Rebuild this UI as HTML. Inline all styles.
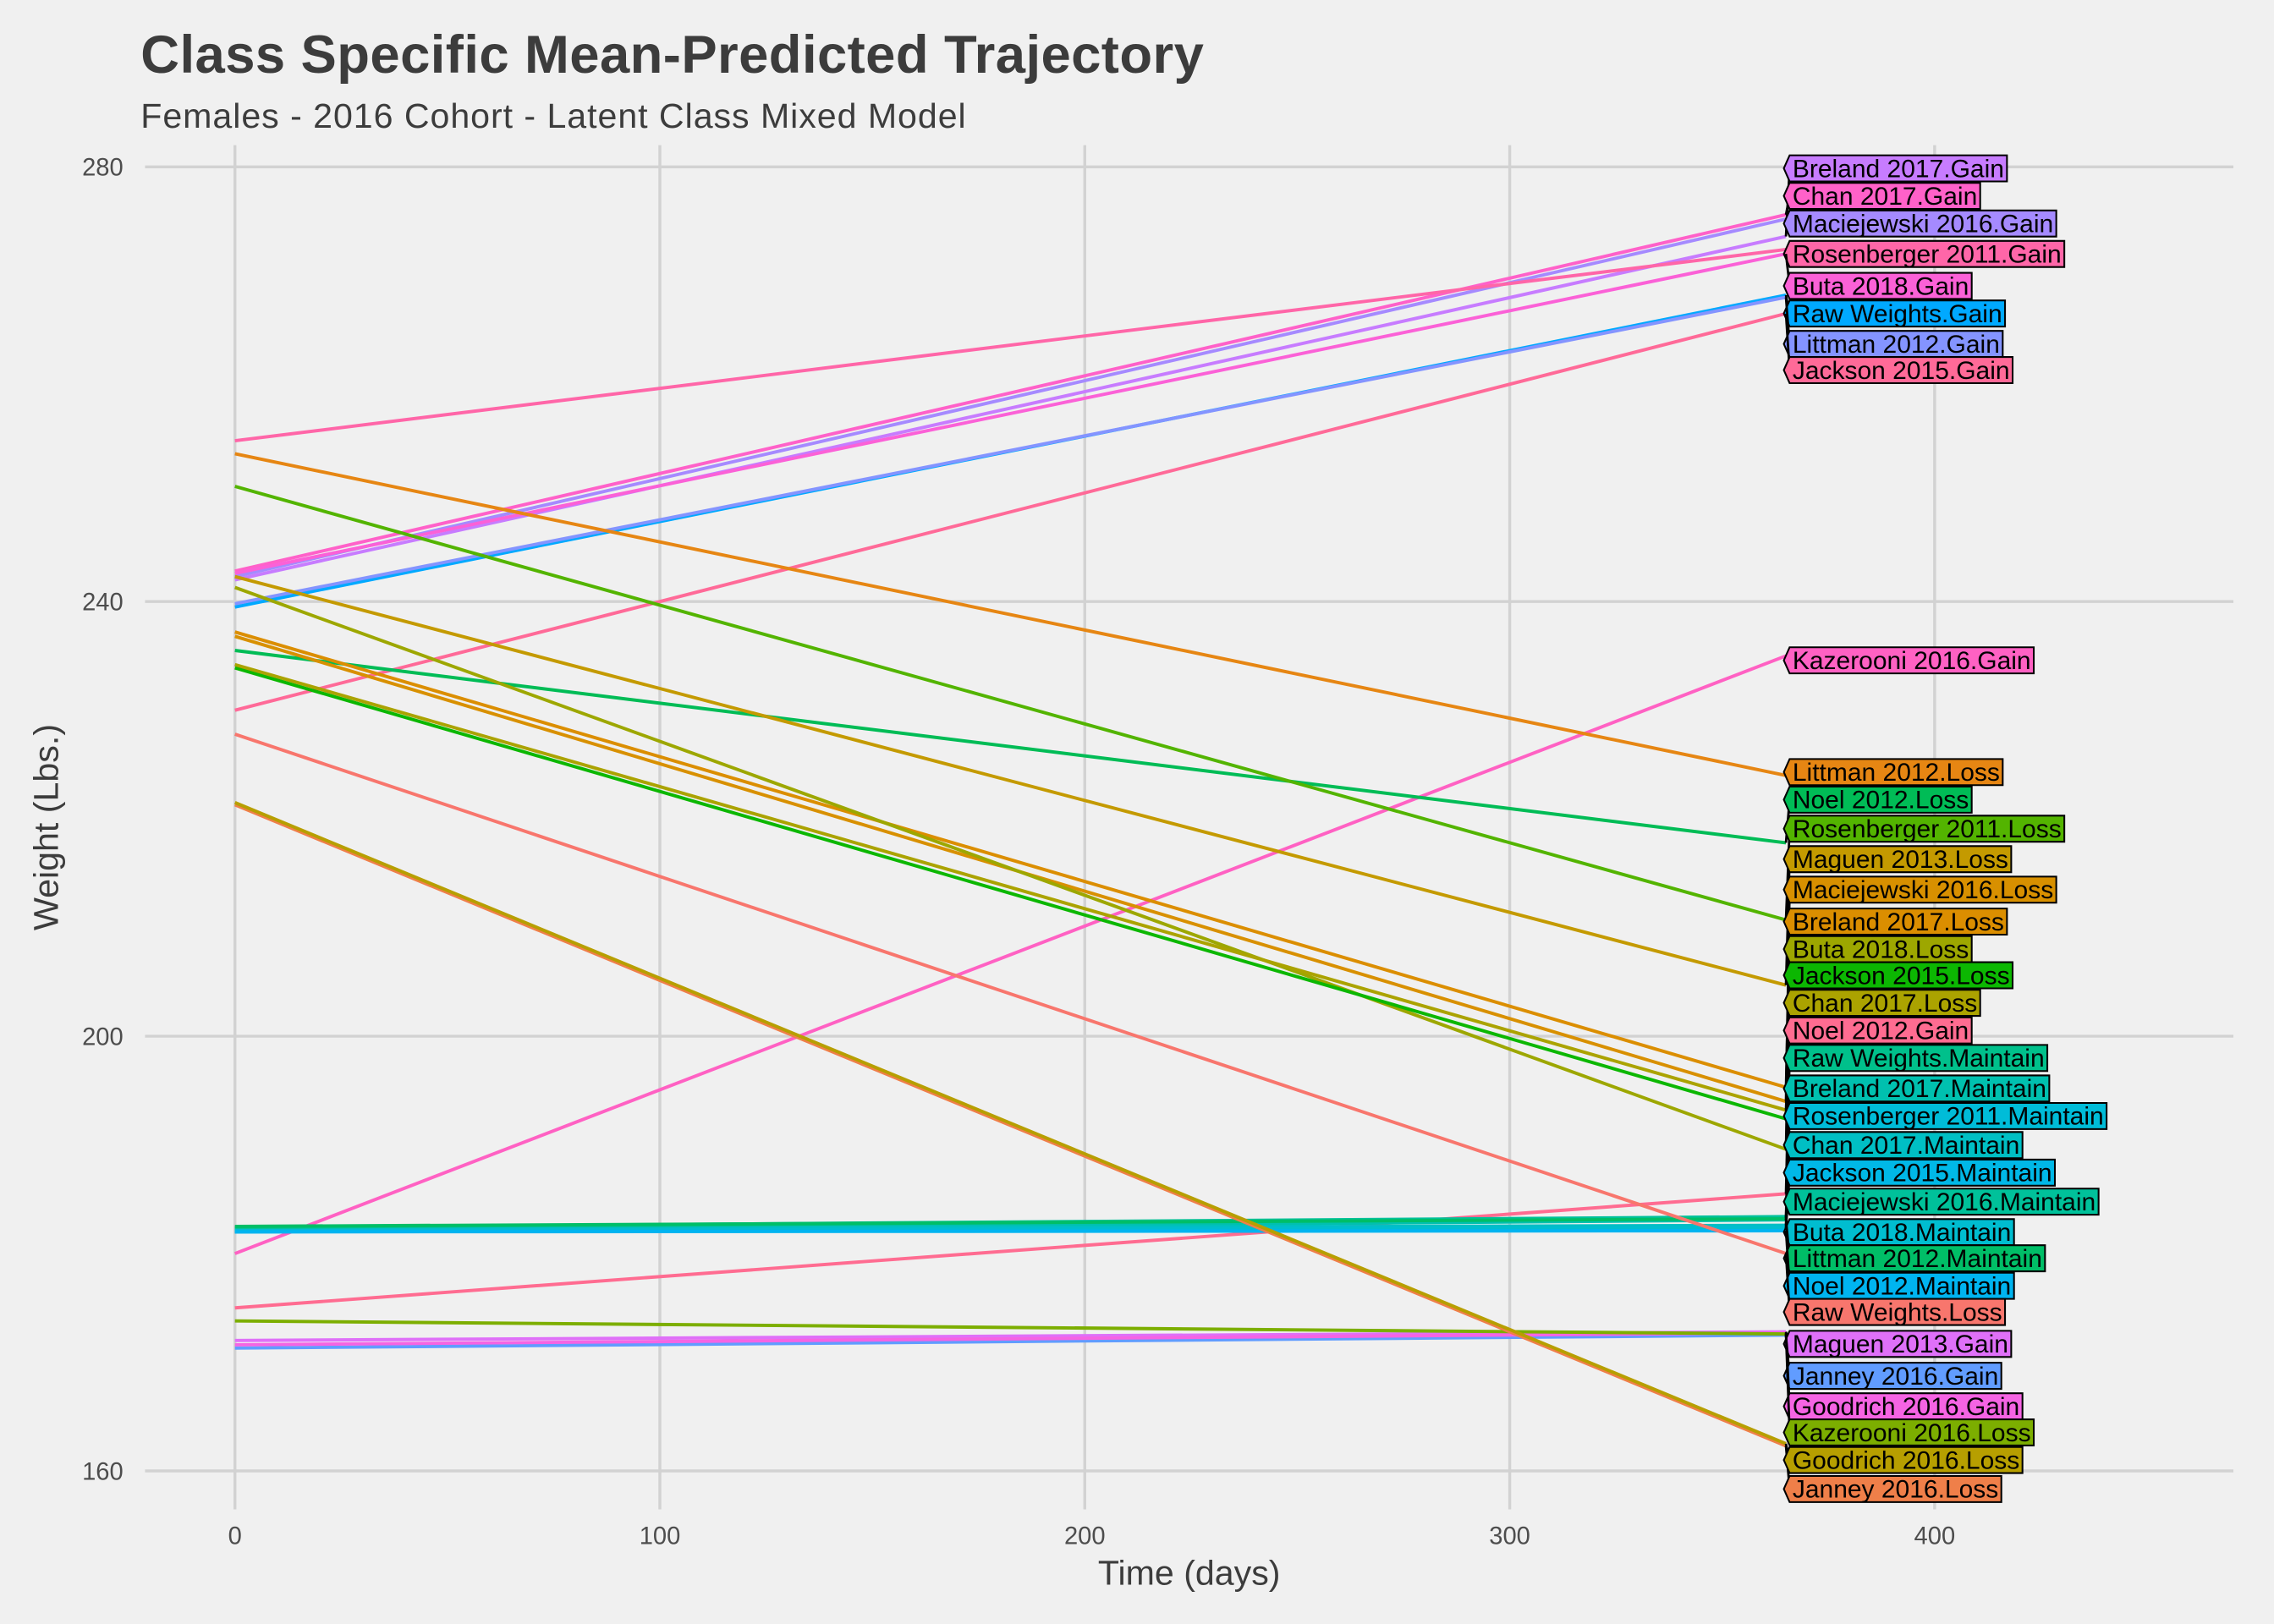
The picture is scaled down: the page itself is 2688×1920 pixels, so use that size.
<!DOCTYPE html>
<html><head><meta charset="utf-8"><style>
html,body{margin:0;padding:0;background:#f0f0f0;}
svg{display:block;font-family:"Liberation Sans",Arial,sans-serif;}
</style></head><body>
<svg id="chart" width="2688" height="1920" viewBox="0 0 1568 1119" preserveAspectRatio="none" xmlns="http://www.w3.org/2000/svg">
<rect x="0" y="0" width="1568" height="1119" fill="#f0f0f0"/>
<g id="grid"></g>
<g id="lines"></g>
<g id="labels"></g>
<text x="97" y="50" font-size="37" font-weight="bold" fill="#3c3c3c" textLength="733">Class Specific Mean-Predicted Trajectory</text>
<text x="97" y="88" font-size="24" fill="#3c3c3c" textLength="569">Females - 2016 Cohort - Latent Class Mixed Model</text>
<text x="820" y="1092" font-size="24" fill="#3c3c3c" text-anchor="middle">Time (days)</text>
<text transform="translate(40,570) rotate(-90)" font-size="24" fill="#3c3c3c" text-anchor="middle">Weight (Lbs.)</text>
</svg>
<script>
const seriesNames = ["Breland 2017.Gain","Chan 2017.Gain","Maciejewski 2016.Gain","Rosenberger 2011.Gain","Buta 2018.Gain","Raw Weights.Gain","Littman 2012.Gain","Jackson 2015.Gain","Kazerooni 2016.Gain","Littman 2012.Loss","Noel 2012.Loss","Rosenberger 2011.Loss","Maguen 2013.Loss","Maciejewski 2016.Loss","Breland 2017.Loss","Buta 2018.Loss","Jackson 2015.Loss","Chan 2017.Loss","Noel 2012.Gain","Raw Weights.Maintain","Breland 2017.Maintain","Rosenberger 2011.Maintain","Chan 2017.Maintain","Jackson 2015.Maintain","Maciejewski 2016.Maintain","Buta 2018.Maintain","Littman 2012.Maintain","Noel 2012.Maintain","Raw Weights.Loss","Maguen 2013.Gain","Janney 2016.Gain","Goodrich 2016.Gain","Kazerooni 2016.Loss","Janney 2016.Loss","Goodrich 2016.Loss"];
const startValues = [242.0,242.8,242.3,254.8,242.6,239.5,239.8,230.0,180.0,253.6,235.5,250.6,242.3,236.8,237.2,241.3,233.9,234.2,175.0,182.3,182.0,182.1,182.2,182.0,182.4,182.1,182.5,182.0,227.8,172.0,171.3,171.6,173.8,221.3,221.5];
const endValues = [273.6,275.6,275.2,272.4,272.0,268.2,268.0,266.5,235.0,224.0,217.8,210.7,204.7,194.0,195.3,189.6,192.4,193.2,185.5,183.3,183.1,182.3,182.6,182.2,183.4,182.4,183.2,182.1,180.0,172.8,172.5,172.7,172.6,162.3,162.5];
const seriesColors = ["#C77CFF","#FF61C9","#A58AFF","#FF66A8","#FB61D7","#00A9FF","#8494FF","#FF6A98","#FF61C3","#E68613","#00BC56","#53B400","#C49A00","#D89000","#DB8E00","#9DA700","#0CB702","#ABA300","#FF6C91","#00C08B","#00C0AF","#00BCD8","#00BFC4","#00B8E7","#00C19A","#00BDD0","#00BE67","#00B4F0","#F8766D","#DF70F8","#619CFF","#F564E3","#7CAE00","#EF7F49","#B79F00"];
const xTicks = [0,100,200,300,400];
const yTicks = [160,200,240,280];
const endDay = 365;
// label layout slots (repelled label positions, pixel layout)
const labelSlots = [116,135,154,175,197,216,237,255,455,532,551,571,592,613,635,654,672,691,710,729,750,769,789,808,828,849,867,886,904,926,948,969,987,1026,1006];

const NS="http://www.w3.org/2000/svg";
function xS(d){return 162+d*2.93;}
function yS(v){return 115+(280-v)*7.4875;}
function mk(tag,attrs,parent){const e=document.createElementNS(NS,tag);for(const k in attrs)e.setAttribute(k,attrs[k]);parent.appendChild(e);return e;}
const grid=document.getElementById('grid'),linesG=document.getElementById('lines'),labG=document.getElementById('labels'),svg=document.getElementById('chart');

yTicks.forEach(v=>{
  const l=mk('line',{x1:100,x2:1540,y1:yS(v),y2:yS(v),stroke:'#d2d2d2','stroke-width':2},grid);
  
  
  const t=mk('text',{x:85,y:yS(v)+6,'font-size':17,fill:'#4d4d4d','text-anchor':'end'},svg);
  t.textContent=v;
  
  
});
xTicks.forEach(d=>{
  const l=mk('line',{x1:xS(d),x2:xS(d),y1:100,y2:1040,stroke:'#d2d2d2','stroke-width':2},grid);
  
  
  const t=mk('text',{x:xS(d),y:1064,'font-size':17,fill:'#4d4d4d','text-anchor':'middle'},svg);
  t.textContent=d;
  
  
});

seriesNames.forEach((n,i)=>{
  const l=mk('line',{x1:xS(0),y1:yS(startValues[i]),x2:xS(endDay),y2:yS(endValues[i]),stroke:seriesColors[i],'stroke-width':2.3},linesG);
  
  
});

seriesNames.forEach((n,i)=>{
  const ly=labelSlots[i], ex=xS(endDay), ey=yS(endValues[i]);
  const c=mk('line',{x1:ex,y1:ey,x2:1234,y2:ly,stroke:'#000','stroke-width':1.6},labG);
  
  
  const t=mk('text',{x:1236,y:ly+6,'font-size':17.5,fill:'#000'},labG);
  t.textContent=n;
  
  
  const w=t.getComputedTextLength()+4;
  const r=mk('path',{d:`M1234,${ly-9} L${1234+w},${ly-9} L${1234+w},${ly+9} L1234,${ly+9} L1230,${ly} Z`,fill:seriesColors[i],stroke:'#000','stroke-width':1.2},labG);
  
  
  labG.insertBefore(r,t);
});
</script>
</body></html>
